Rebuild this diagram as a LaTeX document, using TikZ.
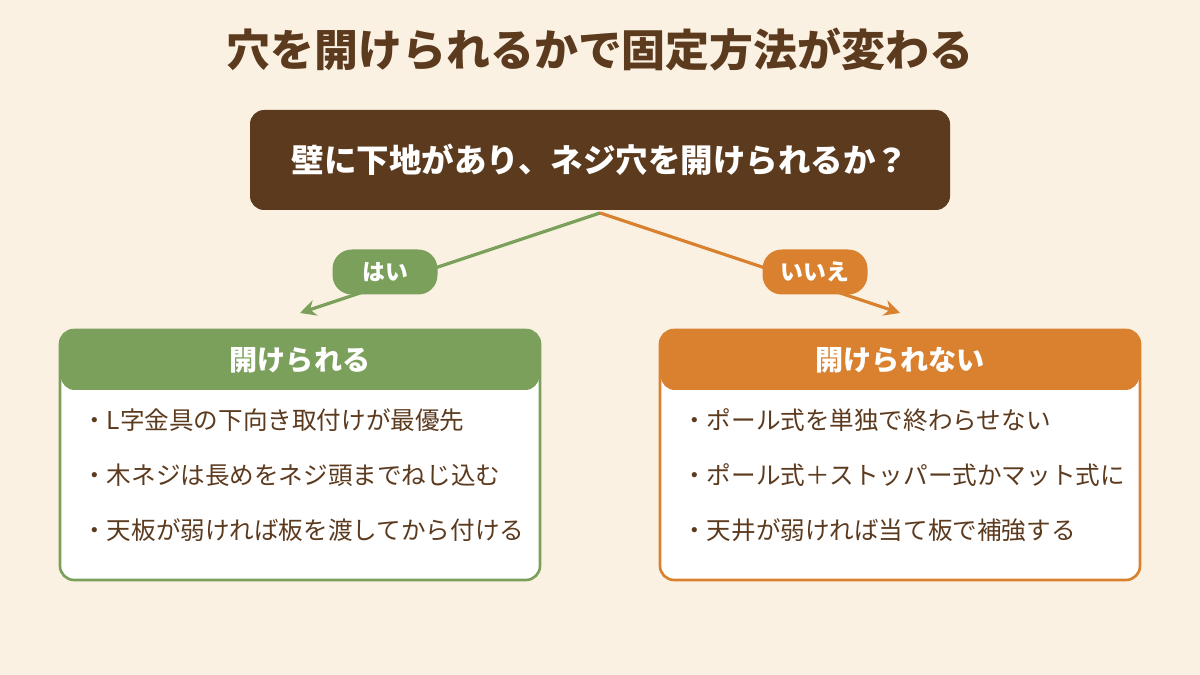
\documentclass[tikz,border=0pt]{standalone}
\usepackage{fontspec}
\setmainfont{Noto Sans CJK JP}
\usetikzlibrary{positioning,arrows.meta}
\definecolor{bgcream}{HTML}{FAF1E3}
\definecolor{darkbrown}{HTML}{5C3A1E}
\definecolor{yesgreen}{HTML}{7BA05B}
\definecolor{noorange}{HTML}{D9812E}
\tikzstyle{titletext} = [draw=none, fill=none, text=darkbrown, font=\fontsize{25}{30}\selectfont\bfseries]
\tikzstyle{question} = [fill=darkbrown, text=white, rounded corners=8pt, minimum width=700*0.02cm, minimum height=100*0.02cm, font=\fontsize{18.5}{22}\selectfont\bfseries]
\tikzstyle{pill} = [text=white, rounded corners=11pt, minimum width=105*0.02cm, minimum height=45*0.02cm, font=\fontsize{13}{15}\selectfont\bfseries]
\tikzstyle{body} = [fill=white, line width=1.5pt, rounded corners=8pt, minimum width=480*0.02cm, minimum height=250*0.02cm]
\tikzstyle{header} = [text=white, font=\fontsize{16}{20}\selectfont\bfseries]
\tikzstyle{item} = [anchor=west, text=darkbrown, font=\fontsize{14}{17}\selectfont]
\tikzstyle{branch} = [draw, line width=1.8pt, -{Stealth[length=9pt,width=9pt]}]

\begin{document}
\begin{tikzpicture}[x=0.02cm, y=-0.02cm]
\fill[bgcream] (0,0) rectangle (1200,675);

\node[titletext] (title) at (600,50) {穴を開けられるかで固定方法が変わる};
\node[question] (ask) at (600,160) {壁に下地があり、ネジ穴を開けられるか？};

\coordinate (fork) at (600,213);
\coordinate (yesend) at (300,313);
\coordinate (noend) at (900,313);
\path[branch, yesgreen] (fork) -- (yesend);
\path[branch, noorange] (fork) -- (noend);
\node[pill, fill=yesgreen] (yes) at (385,272) {はい};
\node[pill, fill=noorange] (no) at (815,272) {いいえ};

% left box
\node[body, draw=yesgreen] (leftbox) at (300,455) {};
\fill[yesgreen, rounded corners=8pt] (60.75,390) -- (60.75,330.75) -- (539.25,330.75) -- (539.25,390) -- cycle;
\node[header] (lefthead) at (300,360) {開けられる};
\node[item] (l1) at (76,420) {・L字金具の下向き取付けが最優先};
\node[item] (l2) at (76,475) {・木ネジは長めをネジ頭までねじ込む};
\node[item] (l3) at (76,530) {・天板が弱ければ板を渡してから付ける};

% right box
\node[body, draw=noorange] (rightbox) at (900,455) {};
\fill[noorange, rounded corners=8pt] (660.75,390) -- (660.75,330.75) -- (1139.25,330.75) -- (1139.25,390) -- cycle;
\node[header] (righthead) at (900,360) {開けられない};
\node[item] (r1) at (676,420) {・ポール式を単独で終わらせない};
\node[item] (r2) at (676,475) {・ポール式＋ストッパー式かマット式に};
\node[item] (r3) at (676,530) {・天井が弱ければ当て板で補強する};
\end{tikzpicture}
\end{document}
